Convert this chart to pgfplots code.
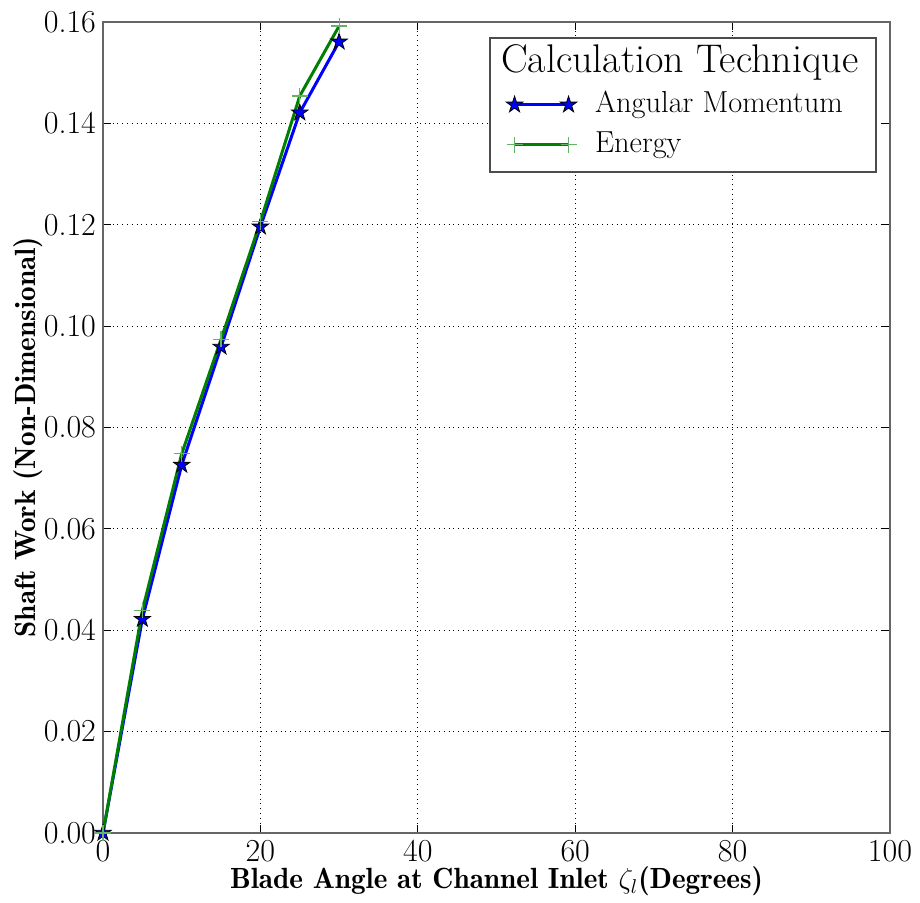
\documentclass[border=0pt]{standalone}
\usepackage{pgfplots}
\pgfplotsset{compat=1.18}
\definecolor{mplgreen}{rgb}{0,0.5,0}
\definecolor{mplblue}{rgb}{0,0,1}
\pgfdeclareplotmark{fstar}{%
  \pgfpathmoveto{\pgfpointpolar{90}{\pgfplotmarksize}}%
  \pgfpathlineto{\pgfpointpolar{126}{0.382\pgfplotmarksize}}%
  \pgfpathlineto{\pgfpointpolar{162}{\pgfplotmarksize}}%
  \pgfpathlineto{\pgfpointpolar{198}{0.382\pgfplotmarksize}}%
  \pgfpathlineto{\pgfpointpolar{234}{\pgfplotmarksize}}%
  \pgfpathlineto{\pgfpointpolar{270}{0.382\pgfplotmarksize}}%
  \pgfpathlineto{\pgfpointpolar{306}{\pgfplotmarksize}}%
  \pgfpathlineto{\pgfpointpolar{342}{0.382\pgfplotmarksize}}%
  \pgfpathlineto{\pgfpointpolar{18}{\pgfplotmarksize}}%
  \pgfpathlineto{\pgfpointpolar{54}{0.382\pgfplotmarksize}}%
  \pgfpathclose
  \pgfusepathqfillstroke}
\begin{document}
\begin{tikzpicture}
\begin{axis}[
  scale only axis,
  width=393.5pt, height=405.5pt,
  xmin=0, xmax=100, ymin=0, ymax=0.16,
  xtick={0,20,40,60,80,100},
  ytick={0,0.02,0.04,0.06,0.08,0.10,0.12,0.14,0.16},
  scaled y ticks=false,
  /pgf/number format/assume math mode=true,
  yticklabel style={/pgf/number format/fixed,/pgf/number format/fixed zerofill,/pgf/number format/precision=2},
  tick label style={font=\fontsize{16}{19}\selectfont},
  grid=major,
  major grid style={black, dotted, line width=0.5pt},
  axis line style={black!60, line width=0.8pt},
  tick align=inside,
  major tick length=4pt,
  tick style={black, line width=0.5pt},
  xlabel={Blade Angle at Channel Inlet $\zeta_l$(Degrees)},
  ylabel={Shaft Work (Non-Dimensional)},
  label style={font=\fontsize{14.6}{17}\fontseries{b}\selectfont},
  xlabel style={at={(axis description cs:0.5,-0.06)}, anchor=center},
  ylabel style={at={(axis description cs:-0.0953,0.488)}, anchor=center},
  legend style={at={(axis description cs:0.9835,0.9815)}, anchor=north east,
    draw=black!70, line width=0.8pt, font=\fontsize{15.2}{18}\selectfont,
    inner xsep=0pt, inner ysep=3.5pt, row sep=0pt,
    nodes={inner sep=0pt, text height=14pt, text depth=6pt}},
  legend cell align=left,
  legend image code/.code={%
    \path (-11.5pt,0pt) (39.5pt,0pt);
    \draw[#1] plot coordinates {(0pt,0pt) (27pt,0pt)};},
]
\addlegendimage{empty legend}
\addlegendentry{\hspace*{-47pt}\fontsize{20}{24}\selectfont Calculation Technique\kern9pt\null}
\addplot[mplblue, line width=1.5pt, mark=fstar, mark size=4.3pt,
  mark options={fill=mplblue, draw=black, line width=0.4pt, solid}]
  coordinates {(0,0) (5,0.0422) (10,0.0726) (15,0.0959) (20,0.1196) (25,0.1421) (30,0.1561)};
\addlegendentry{Angular Momentum}
\addplot[mplgreen, line width=1.5pt, mark=+, mark size=4pt,
  mark options={draw=mplgreen!60, line width=0.6pt, solid}]
  coordinates {(0,0) (5,0.0439) (10,0.0748) (15,0.0974) (20,0.1206) (25,0.1454) (30,0.1592)};
\addlegendentry{Energy}
\end{axis}
\path[use as bounding box] ([xshift=-51.5pt,yshift=-33.5pt]current axis.south west) rectangle ([xshift=15pt,yshift=11pt]current axis.north east);
\end{tikzpicture}
\end{document}
